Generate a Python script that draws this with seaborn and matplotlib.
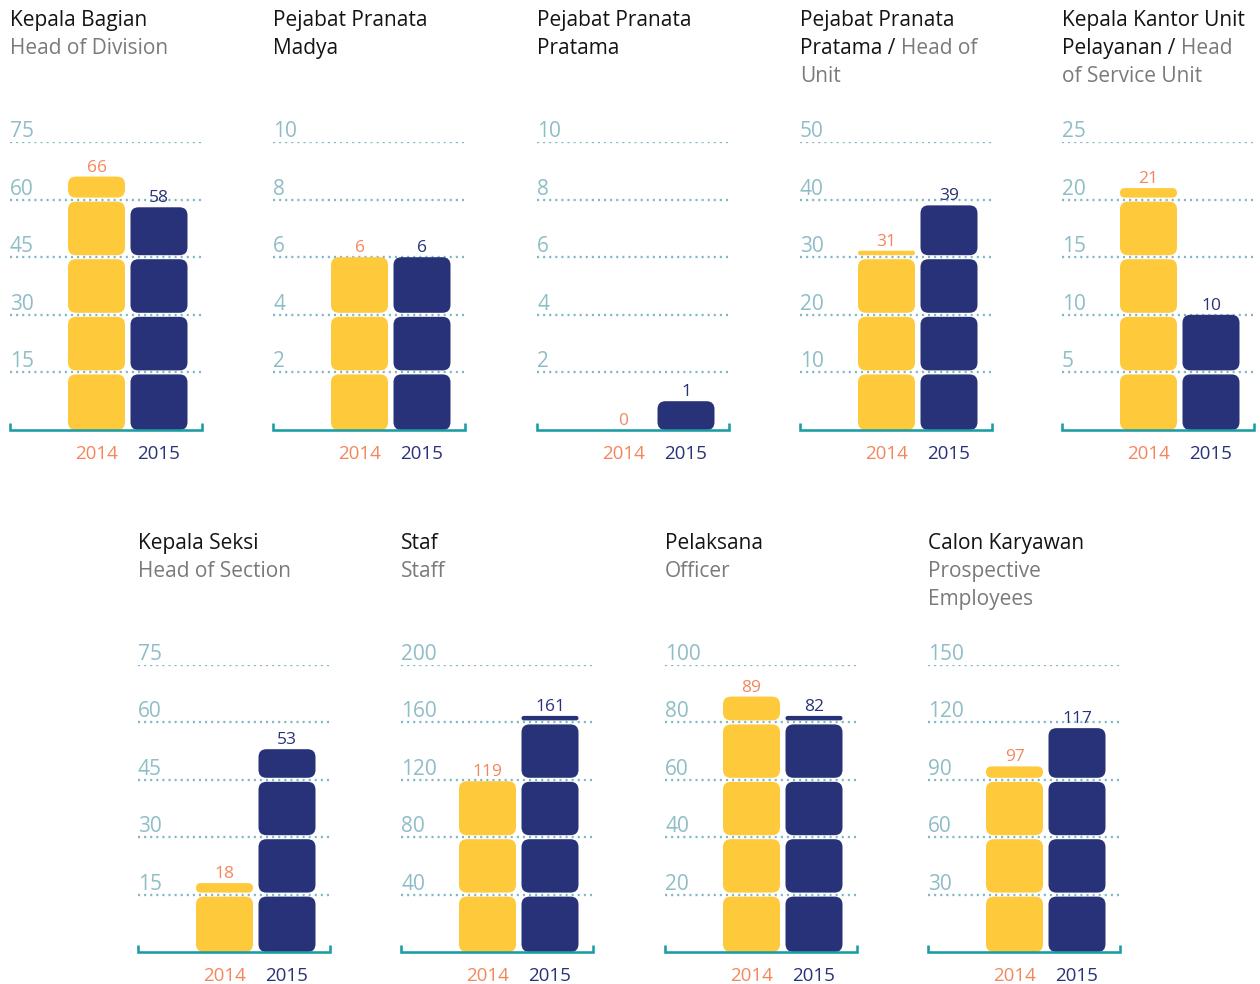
import numpy as np
import pandas as pd
import matplotlib
matplotlib.use("Agg")
import matplotlib.pyplot as plt
import seaborn as sns
from matplotlib.patches import FancyBboxPatch
from matplotlib.text import Annotation

# ---------------- data ----------------
years = ["2014", "2015"]
title_lines = [
    [[("Kepala Bagian", "id")], [("Head of Division", "en")]],
    [[("Pejabat Pranata", "id")], [("Madya", "id")]],
    [[("Pejabat Pranata", "id")], [("Pratama", "id")]],
    [[("Pejabat Pranata", "id")], [("Pratama / ", "id"), ("Head of", "en")], [("Unit", "en")]],
    [[("Kepala Kantor Unit", "id")], [("Pelayanan / ", "id"), ("Head", "en")], [("of Service Unit", "en")]],
    [[("Kepala Seksi", "id")], [("Head of Section", "en")]],
    [[("Staf", "id")], [("Staff", "en")]],
    [[("Pelaksana", "id")], [("Officer", "en")]],
    [[("Calon Karyawan", "id")], [("Prospective", "en")], [("Employees", "en")]],
]
values_2014 = [66, 6, 0, 31, 21, 18, 119, 89, 97]
values_2015 = [58, 6, 1, 39, 10, 53, 161, 82, 117]
axis_max = [75, 10, 10, 50, 25, 75, 200, 100, 150]
axis_step = [15, 2, 2, 10, 5, 15, 40, 20, 30]

# ---------------- style ----------------
YELLOW = "#FEC93A"
NAVY = "#283278"
ORANGE = "#F5865C"
TICKC = "#8FBDC7"
GRIDC = "#7FB8C3"
TEAL = "#1C9DA4"
GREY = "#7A7A7A"
BLACK = "#141414"

sns.set_style("white")
plt.rcParams["font.family"] = ["Open Sans", "DejaVu Sans"]

W, H = 1260, 984
DPI = 100
fig = plt.figure(figsize=(W / DPI, H / DPI), dpi=DPI)
PT = 72.0 / DPI  # points per pixel

PANEL_W = 192
top_lefts = [10, 273, 537, 800, 1062]
bot_lefts = [138, 401, 665, 928]
panels = [(l, 142, 430) for l in top_lefts] + [(l, 665, 952) for l in bot_lefts]

BAR_UNIT = 62.5          # px between bar centres
BAR_W = 57 / BAR_UNIT
XL0 = -86.5 / BAR_UNIT
XL1 = (PANEL_W - 86.5) / BAR_UNIT
xpx = (XL1 - XL0) / PANEL_W

GAP = 2.0      # half gap between blocks (px)
RAD = 8.0      # corner radius (px)
MINH = 4.5     # minimal strip height (px)


def px2fig(x, y):
    return x / W, 1 - y / H


for i, (left, ytop, ybot) in enumerate(panels):
    hpx = ybot - ytop
    ax = fig.add_axes([left / W, 1 - ybot / H, PANEL_W / W, hpx / H])
    ymax = axis_max[i]
    step = axis_step[i]
    ypx = ymax / hpx

    df = pd.DataFrame({"year": years, "value": [values_2014[i], values_2015[i]]})
    sns.barplot(data=df, x="year", y="value", hue="year",
                palette=[YELLOW, NAVY], width=BAR_W, saturation=1,
                legend=False, ax=ax)
    ax.set_xlim(XL0, XL1)
    ax.set_ylim(0, ymax)
    ax.set_axis_off()

    # gridlines + tick labels
    ticks = np.arange(step, ymax + step / 2, step)
    for t in ticks:
        ax.axhline(t, color=GRIDC, lw=2.3 * PT, ls=(0, (0.9, 1.75)),
                   dash_capstyle="butt", zorder=0.5)
        ax.annotate(f"{int(t)}", xy=(0, t), xycoords=("axes fraction", "data"),
                    xytext=(0, 5 * PT), textcoords="offset points",
                    ha="left", va="baseline", fontsize=15, color=TICKC,
                    annotation_clip=False)

    # replace seaborn bars by rounded stacked blocks
    bars = []
    for p in list(ax.patches):
        bars.append((p.get_x(), p.get_width(), p.get_height(), p.get_facecolor()))
        p.remove()
    bars.sort(key=lambda b: b[0])
    tops = {}
    asp = ypx / xpx
    for (bx, bw, bh, fc) in bars:
        cx = bx + bw / 2
        drawn_top = 0.0
        if bh > 0:
            nseg = int(np.ceil(bh / step - 1e-9))
            for k in range(nseg):
                lo = k * step + (GAP * ypx if k > 0 else 0)
                hi = min((k + 1) * step, bh)
                if (k + 1) * step < bh - 1e-9:
                    hi -= GAP * ypx
                if (hi - lo) / ypx < MINH:
                    hi = lo + MINH * ypx
                hpx_seg = (hi - lo) / ypx
                r = min(RAD, hpx_seg / 2, bw / xpx / 2) * xpx
                patch = FancyBboxPatch((bx, lo), bw, hi - lo,
                                       boxstyle=f"round,pad=0,rounding_size={r}",
                                       mutation_aspect=asp, fc=fc, ec="none",
                                       zorder=2, clip_on=False)
                ax.add_patch(patch)
                drawn_top = hi
        tops[round(cx)] = drawn_top

    # value labels + year labels
    vals = [values_2014[i], values_2015[i]]
    cols = [ORANGE, NAVY]
    for j, (yr, v) in enumerate(zip(years, vals)):
        top = tops.get(j, 0.0)
        ax.annotate(f"{v}", xy=(j, top), xytext=(0, 5 * PT), textcoords="offset points",
                    ha="center", va="baseline", fontsize=12.5, color=cols[j],
                    annotation_clip=False, zorder=5)
        ax.annotate(yr, xy=(j, 0), xytext=(0, -29 * PT), textcoords="offset points",
                    ha="center", va="baseline", fontsize=13.5, color=cols[j],
                    annotation_clip=False)

    # base axis with end ticks
    th = 7 * ypx
    ax.plot([XL0, XL0, XL1, XL1], [th, 0, 0, th], color=TEAL, lw=2.6 * PT,
            solid_joinstyle="miter", solid_capstyle="butt", clip_on=False, zorder=4)

    # titles
    base_y = ytop - 116
    for li, line in enumerate(title_lines[i]):
        yb = base_y + li * 28
        prev = None
        for (txt, kind) in line:
            col = BLACK if kind == "id" else GREY
            if prev is None:
                fx, fy = px2fig(left, yb)
                prev = fig.text(fx, fy, txt, ha="left", va="baseline",
                                fontsize=15, color=col)
            else:
                a = Annotation(txt, xy=(1, 0), xycoords=prev, ha="left", va="bottom",
                               fontsize=15, color=col)
                fig.add_artist(a)
                prev = a

fig.savefig("out.png", dpi=DPI)
